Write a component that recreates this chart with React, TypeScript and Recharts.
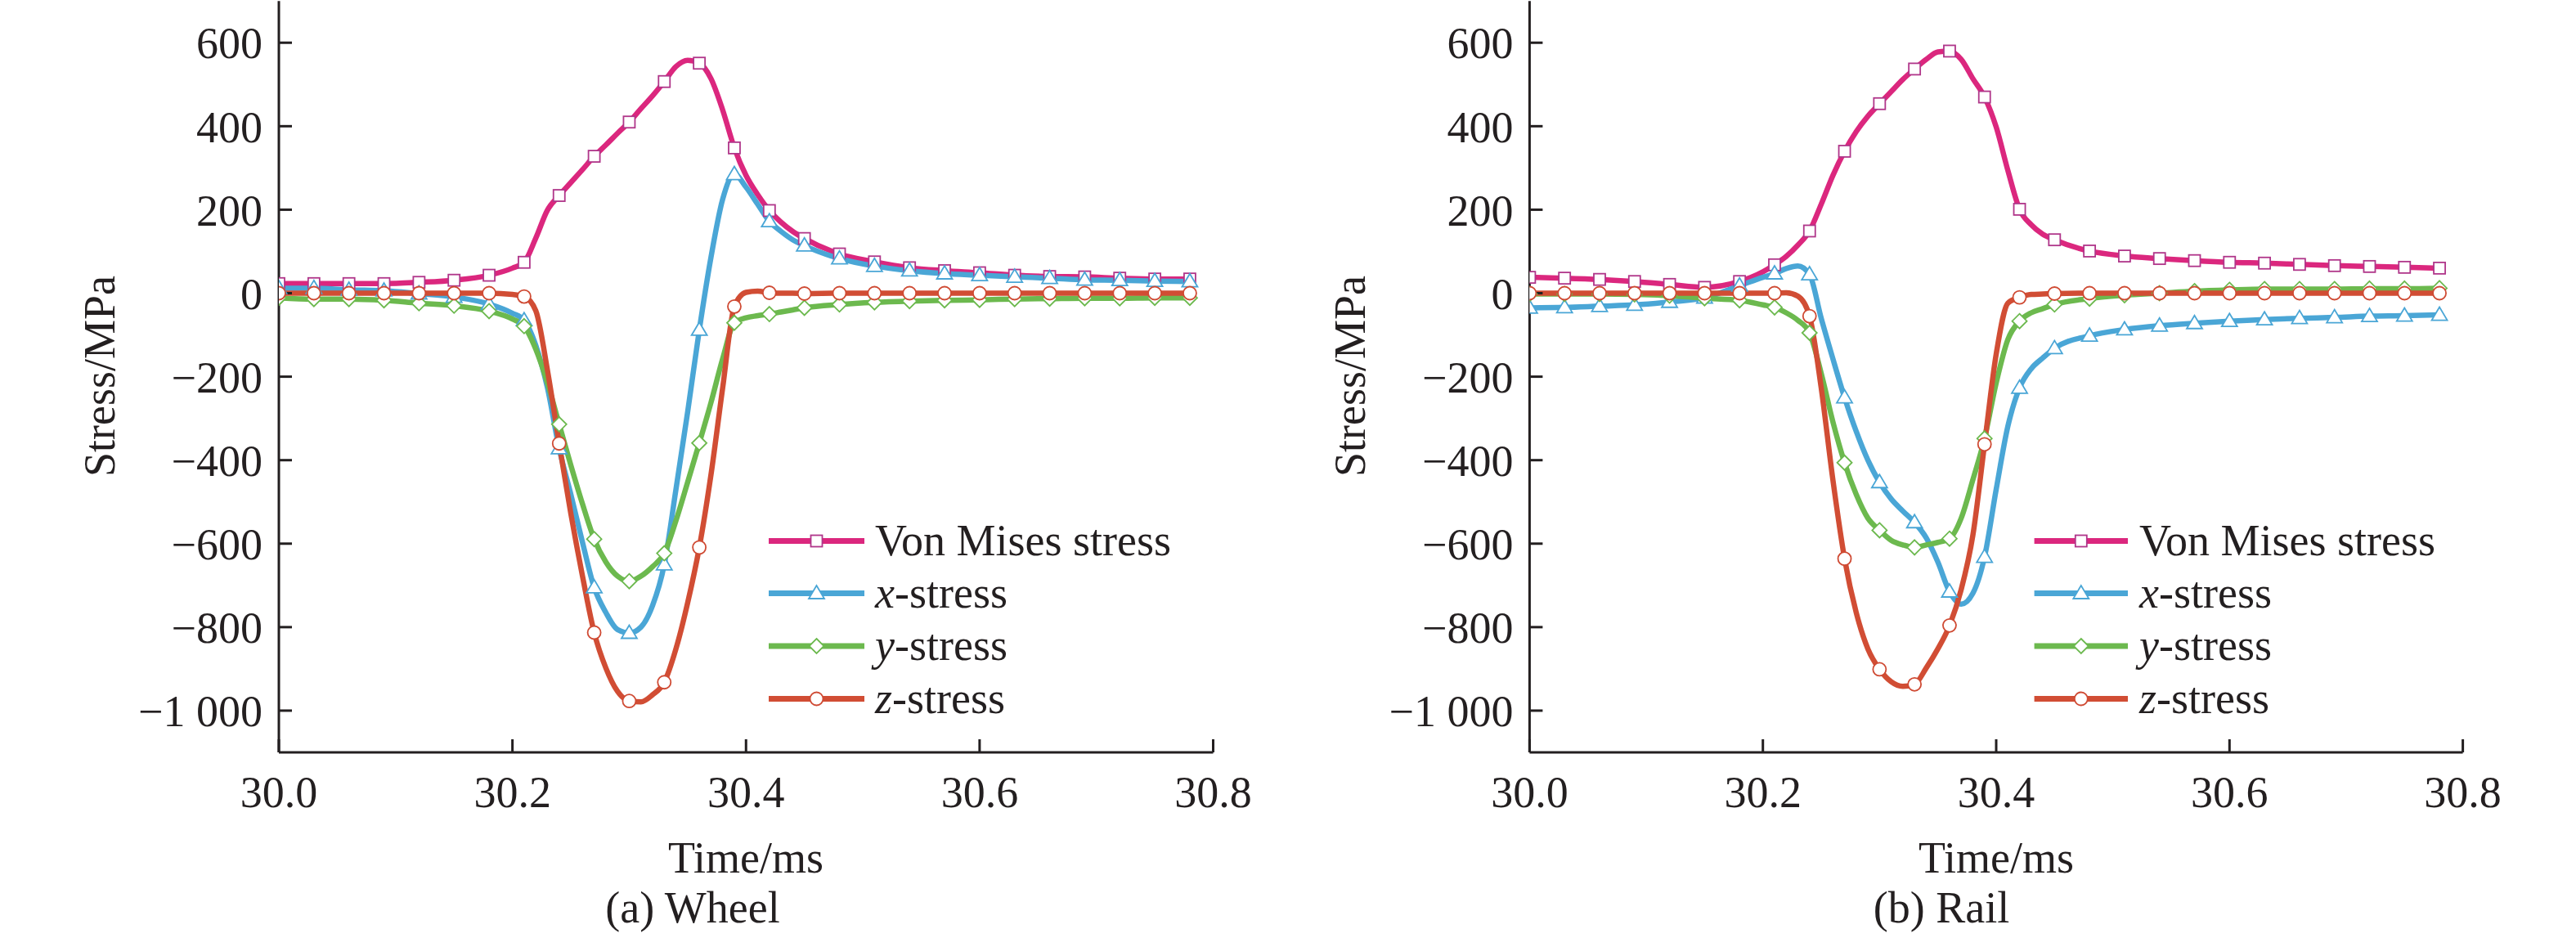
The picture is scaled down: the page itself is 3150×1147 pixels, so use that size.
import React from 'react';
import { LineChart, Line, XAxis, YAxis } from 'recharts';

// ---------- data ----------
const TIME = [
  30.0, 30.03, 30.06, 30.09, 30.12, 30.15, 30.18,
  30.2, 30.21, 30.22, 30.23, 30.24, 30.25, 30.26, 30.27, 30.28, 30.29, 30.3, 30.31, 30.32, 30.33,
  30.34, 30.35, 30.36, 30.37, 30.38, 30.39, 30.4, 30.41, 30.42, 30.43, 30.44, 30.45,
  30.48, 30.51, 30.54, 30.57, 30.6, 30.63, 30.66, 30.69, 30.72, 30.75, 30.78,
];

const MARKER_TIMES = [
  30.0, 30.03, 30.06, 30.09, 30.12, 30.15, 30.18, 30.21, 30.24, 30.27, 30.3, 30.33, 30.36, 30.39,
  30.42, 30.45, 30.48, 30.51, 30.54, 30.57, 30.6, 30.63, 30.66, 30.69, 30.72, 30.75, 30.78,
];

const WHEEL_VM = [
  23, 23, 23, 23, 26, 31, 43,
  60, 74, 132, 199, 234, 265, 296, 328, 355, 383, 410, 442, 473, 507,
  543, 558, 551, 514, 439, 348, 282, 236, 198, 170, 148, 131,
  94, 75, 61, 54, 49, 43, 40, 39, 36, 34, 34,
];
const WHEEL_X = [
  12, 12, 8, 6, -1, -9, -26,
  -48, -65, -125, -227, -372, -482, -597, -705, -765, -806, -814, -800, -748, -650,
  -470, -285, -88, 86, 225, 285, 254, 213, 172, 148, 128, 114,
  83, 65, 54, 47, 43, 39, 36, 32, 31, 29, 28,
];
const WHEEL_Y = [
  -11, -14, -14, -17, -24, -30, -43,
  -62, -79, -134, -215, -314, -412, -505, -589, -644, -678, -690, -678, -655, -623,
  -545, -453, -359, -262, -157, -71, -59, -54, -50, -45, -40, -35,
  -27, -22, -19, -17, -16, -14, -13, -12, -12, -11, -11,
];
const WHEEL_Z = [
  0, 0, 0, 0, 0, 0, 0,
  -3, -8, -42, -185, -360, -528, -678, -813, -898, -954, -977, -979, -962, -932,
  -852, -742, -609, -435, -227, -32, 2, 5, 1, 0, 0, -1,
  0, 0, 0, 0, 0, 0, 0, 0, 0, 0, 0,
];

const RAIL_VM = [
  38, 36, 33, 28, 21, 14, 28,
  51, 68, 88, 115, 149, 213, 282, 340, 387, 424, 454, 483, 512, 537,
  560, 578, 580, 560, 514, 470, 398, 294, 201, 164, 141, 128,
  101, 89, 83, 78, 74, 72, 69, 66, 64, 62, 60,
];
const RAIL_X = [
  -35, -34, -31, -28, -21, -11, 18,
  38, 47, 59, 65, 45, -60, -157, -250, -331, -400, -453, -493, -522, -549,
  -586, -644, -715, -745, -719, -632, -470, -319, -227, -181, -155, -132,
  -102, -87, -78, -72, -67, -63, -60, -58, -55, -54, -52,
];
const RAIL_Y = [
  -2, -2, -2, -3, -6, -12, -17,
  -28, -34, -47, -65, -95, -192, -308, -406, -482, -539, -568, -592, -603, -609,
  -603, -597, -588, -539, -447, -348, -215, -111, -67, -47, -37, -27,
  -13, -5, 0, 5, 8, 10, 10, 10, 11, 11, 12,
];
const RAIL_Z = [
  0, 0, 0, 0, 0, 0, 0,
  0, 0, 1, -7, -55, -227, -447, -636, -765, -852, -901, -931, -942, -937,
  -898, -852, -796, -710, -580, -362, -146, -24, -10, -3, -2, -1,
  0, 0, 0, 0, 0, 0, 0, 0, 0, 0, 0,
];

const X_TICKS = [30.0, 30.2, 30.4, 30.6, 30.8];
const Y_TICKS = [-1000, -800, -600, -400, -200, 0, 200, 400, 600];

const SERIES_LABELS = ['Von Mises stress', 'x-stress', 'y-stress', 'z-stress'];

// ---------- styles ----------
const FONT = '"Liberation Serif", "Times New Roman", Times, serif';
const INK = '#231f20';
const FS = 54;

const C_VM = '#db277e';
const C_X = '#4aa6d6';
const C_Y = '#6cb94e';
const C_Z = '#d14d34';
const M_VM = '#b0368a';
const M_X = '#4aa6d6';
const M_Y = '#6cb94e';
const M_Z = '#cf4a33';

const markerSet = new Set(MARKER_TIMES.map((t) => t.toFixed(2)));

type Shape = 'square' | 'triangle' | 'diamond' | 'circle';

function MarkerShape({ shape, cx, cy, color }: { shape: Shape; cx: number; cy: number; color: string }) {
  const sw = 1.8;
  if (shape === 'square') {
    return <rect x={cx - 7} y={cy - 7} width={14} height={14} fill="#fff" stroke={color} strokeWidth={sw} />;
  }
  if (shape === 'triangle') {
    return (
      <polygon
        points={`${cx},${cy - 9.5} ${cx - 9.5},${cy + 6.5} ${cx + 9.5},${cy + 6.5}`}
        fill="#fff"
        stroke={color}
        strokeWidth={sw}
      />
    );
  }
  if (shape === 'diamond') {
    return (
      <polygon
        points={`${cx},${cy - 9} ${cx + 9},${cy} ${cx},${cy + 9} ${cx - 9},${cy}`}
        fill="#fff"
        stroke={color}
        strokeWidth={sw}
      />
    );
  }
  return <circle cx={cx} cy={cy} r={8} fill="#fff" stroke={color} strokeWidth={sw} />;
}

function makeDot(shape: Shape, color: string) {
  return (props: any) => {
    const { cx, cy, payload, index } = props;
    const key = `${shape}-${index}`;
    if (!payload || !markerSet.has(Number(payload.t).toFixed(2)) || cx == null || cy == null) {
      return <g key={key} />;
    }
    return (
      <g key={key}>
        <MarkerShape shape={shape} cx={cx} cy={cy} color={color} />
      </g>
    );
  };
}

function buildRows(vm: number[], x: number[], y: number[], z: number[]) {
  return TIME.map((t, i) => ({ t, vm: vm[i], x: x[i], y: y[i], z: z[i] }));
}

const wheelRows = buildRows(WHEEL_VM, WHEEL_X, WHEEL_Y, WHEEL_Z);
const railRows = buildRows(RAIL_VM, RAIL_X, RAIL_Y, RAIL_Z);

const fmtY = (v: number) => {
  if (v === 0) return '0';
  const abs = Math.abs(v);
  const s = abs >= 1000 ? `${Math.floor(abs / 1000)} ${String(abs % 1000).padStart(3, '0')}` : String(abs);
  return v < 0 ? `\u2212${s}` : s;
};

const CHART_W = 1575;
const CHART_H = 1147;
const PLOT_TOP = 1.2;
const PLOT_BOTTOM = 920;
const YAXIS_W = 200;
const XAXIS_H = 60;

function StressChart({ rows, plotLeft, plotRight }: { rows: any[]; plotLeft: number; plotRight: number }) {
  const tickStyle = { fontSize: FS, fill: INK, fontFamily: FONT };
  const axisLine = { stroke: INK, strokeWidth: 3 };
  return (
    <LineChart
      width={CHART_W}
      height={CHART_H}
      data={rows}
      style={{ fontFamily: FONT }}
      margin={{
        top: PLOT_TOP,
        right: CHART_W - plotRight,
        left: plotLeft - YAXIS_W,
        bottom: CHART_H - PLOT_BOTTOM - XAXIS_H,
      }}
    >
      <XAxis
        dataKey="t"
        type="number"
        domain={[30, 30.8]}
        ticks={X_TICKS}
        interval={0}
        tickFormatter={(v: number) => v.toFixed(1)}
        tick={tickStyle}
        tickSize={-16}
        tickMargin={45}
        tickLine={{ stroke: INK, strokeWidth: 3 }}
        axisLine={axisLine}
        height={XAXIS_H}
        allowDataOverflow
      />
      <XAxis
        xAxisId="top"
        orientation="top"
        type="number"
        domain={[30, 30.8]}
        height={0}
        tick={false}
        tickLine={false}
        axisLine={axisLine}
      />
      <YAxis
        type="number"
        domain={[-1100, 700]}
        ticks={Y_TICKS}
        interval={0}
        tickFormatter={fmtY}
        tick={tickStyle}
        tickSize={-16}
        tickMargin={36}
        tickLine={{ stroke: INK, strokeWidth: 3 }}
        axisLine={axisLine}
        width={YAXIS_W}
        allowDataOverflow
      />
      <YAxis
        yAxisId="r"
        orientation="right"
        type="number"
        domain={[-1100, 700]}
        width={0}
        tick={false}
        tickLine={false}
        axisLine={axisLine}
      />
      <Line dataKey="vm" type="monotone" stroke={C_VM} strokeWidth={6.5} dot={makeDot('square', M_VM)} activeDot={false} isAnimationActive={false} />
      <Line dataKey="x" type="monotone" stroke={C_X} strokeWidth={6.5} dot={makeDot('triangle', M_X)} activeDot={false} isAnimationActive={false} />
      <Line dataKey="y" type="monotone" stroke={C_Y} strokeWidth={6.5} dot={makeDot('diamond', M_Y)} activeDot={false} isAnimationActive={false} />
      <Line dataKey="z" type="monotone" stroke={C_Z} strokeWidth={6.5} dot={makeDot('circle', M_Z)} activeDot={false} isAnimationActive={false} />
    </LineChart>
  );
}

const LEGEND_ITEMS: { label: string; line: string; marker: string; shape: Shape }[] = [
  { label: SERIES_LABELS[0], line: C_VM, marker: M_VM, shape: 'square' },
  { label: SERIES_LABELS[1], line: C_X, marker: M_X, shape: 'triangle' },
  { label: SERIES_LABELS[2], line: C_Y, marker: M_Y, shape: 'diamond' },
  { label: SERIES_LABELS[3], line: C_Z, marker: M_Z, shape: 'circle' },
];
const LEGEND_ROWS = [661.5, 725.5, 790, 854.5];

function LegendBlock({ x1, x2, tx }: { x1: number; x2: number; tx: number }) {
  return (
    <g>
      {LEGEND_ITEMS.map((it, i) => {
        const y = LEGEND_ROWS[i];
        const mid = (x1 + x2) / 2;
        const italic = it.label.includes('-') && it.label.length <= 9;
        return (
          <g key={it.label}>
            <line x1={x1} x2={x2} y1={y} y2={y} stroke={it.line} strokeWidth={7} />
            <MarkerShape shape={it.shape} cx={mid} cy={y} color={it.marker} />
            <text x={tx} y={y + 17} fontSize={FS} fontFamily={FONT} fill={INK}>
              {italic ? (
                <>
                  <tspan fontStyle="italic">{it.label.slice(0, 1)}</tspan>
                  <tspan>{it.label.slice(1)}</tspan>
                </>
              ) : (
                it.label
              )}
            </text>
          </g>
        );
      })}
    </g>
  );
}

export default function App() {
  const textProps = { fontSize: FS, fontFamily: FONT, fill: INK };
  return (
    <div style={{ position: 'relative', width: 3150, height: 1147, background: '#fff', overflow: 'hidden', fontFamily: FONT }}>
      <style>{`body{margin:0;background:#fff;} .recharts-cartesian-axis-tick-value, .recharts-cartesian-axis-tick-value tspan, .recharts-text { font-family: ${FONT} !important; }`}</style>
      <div style={{ position: 'absolute', left: 0, top: 0 }}>
        <StressChart rows={wheelRows} plotLeft={341} plotRight={1483.5} />
      </div>
      <div style={{ position: 'absolute', left: 1575, top: 0 }}>
        <StressChart rows={railRows} plotLeft={295.4} plotRight={1436.6} />
      </div>
      <svg
        width={3150}
        height={1147}
        style={{ position: 'absolute', left: 0, top: 0, pointerEvents: 'none' }}
      >
        <text {...textProps} textAnchor="middle" transform="translate(140,460) rotate(-90)">
          Stress/MPa
        </text>
        <text {...textProps} textAnchor="middle" transform="translate(1669,460) rotate(-90)">
          Stress/MPa
        </text>
        <text {...textProps} textAnchor="middle" x={912} y={1067}>
          Time/ms
        </text>
        <text {...textProps} textAnchor="middle" x={2441} y={1067}>
          Time/ms
        </text>
        <text {...textProps} textAnchor="middle" x={847} y={1128}>
          (a) Wheel
        </text>
        <text {...textProps} textAnchor="middle" x={2374} y={1128}>
          (b) Rail
        </text>
        <LegendBlock x1={940} x2={1057} tx={1070} />
        <LegendBlock x1={2487.6} x2={2602} tx={2616} />
      </svg>
    </div>
  );
}
